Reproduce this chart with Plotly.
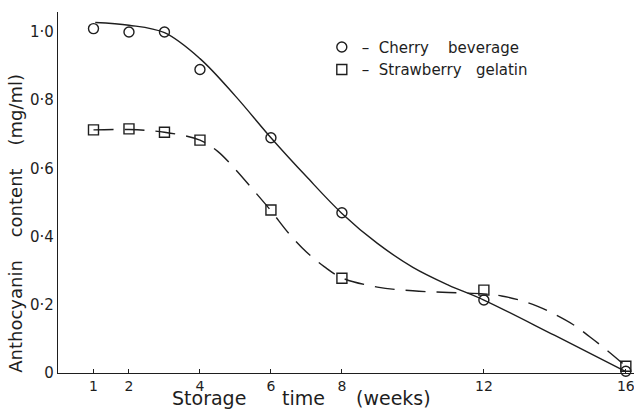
import plotly.graph_objects as go

# Measured anthocyanin content (mg/ml) by storage week
weeks = [1, 2, 3, 4, 6, 8, 12, 16]
cherry_beverage = [1.01, 1.00, 1.00, 0.89, 0.69, 0.47, 0.214, 0.005]
strawberry_gelatin = [0.713, 0.716, 0.706, 0.683, 0.478, 0.278, 0.243, 0.02]

# Hand-fitted trend curves (knots of the drawn smooth lines)
cherry_fit_weeks = [1.05, 2, 3, 4, 5, 6, 7, 8, 9, 10, 11, 12, 14, 16]
cherry_fit_values = [1.028, 1.02, 0.998, 0.922, 0.812, 0.69, 0.576, 0.468,
                     0.38, 0.31, 0.258, 0.214, 0.11, 0.004]
strawberry_fit_weeks = [1, 2, 3, 4, 4.5, 5, 5.5, 6, 6.5, 7, 7.5, 8, 9, 10, 11,
                        12, 12.5, 13, 13.5, 14, 14.5, 15, 15.5, 16]
strawberry_fit_values = [0.713, 0.714, 0.706, 0.683, 0.65, 0.597, 0.537, 0.476,
                         0.41, 0.355, 0.312, 0.279, 0.252, 0.241, 0.236, 0.232,
                         0.226, 0.214, 0.196, 0.172, 0.143, 0.105, 0.064, 0.02]

x_ticks = [1, 2, 4, 6, 8, 12, 16]
x_tick_text = ["1", "2", "4", "6", "8", "12", "16"]
y_ticks = [0, 0.2, 0.4, 0.6, 0.8, 1.0]
y_tick_text = ["0", "0·2", "0·4", "0·6", "0·8", "1·0"]

# Words of the x-axis title, set out individually between the tick labels
x_title_words = ["Storage", "time", "(weeks)"]
x_title_pos = [0.2625, 0.4265, 0.583]

INK = "#1e1e1e"
FONT = "DejaVu Sans"
NB = "\u00a0"

fig = go.Figure()

fig.add_trace(go.Scatter(
    x=cherry_fit_weeks, y=cherry_fit_values, mode="lines",
    line=dict(color=INK, width=1.4, shape="spline", smoothing=1.0),
    showlegend=False, hoverinfo="skip"))
fig.add_trace(go.Scatter(
    x=strawberry_fit_weeks, y=strawberry_fit_values, mode="lines",
    line=dict(color=INK, width=1.4, shape="spline", smoothing=1.0,
              dash="20px,11px"),
    showlegend=False, hoverinfo="skip"))

fig.add_trace(go.Scatter(
    x=weeks, y=cherry_beverage, mode="markers",
    name="–" + NB * 2 + "Cherry" + NB * 4 + "beverage",
    marker=dict(symbol="circle-open", size=10, color=INK,
                line=dict(width=1.4, color=INK)),
    cliponaxis=False))
fig.add_trace(go.Scatter(
    x=weeks, y=strawberry_gelatin, mode="markers",
    name="–" + NB * 2 + "Strawberry" + NB * 3 + "gelatin",
    marker=dict(symbol="square-open", size=10, color=INK,
                line=dict(width=1.4, color=INK)),
    cliponaxis=False))

annotations = [
    dict(text=word, xref="paper", yref="paper", x=xp, y=-0.07,
         xanchor="center", yanchor="middle", showarrow=False,
         font=dict(size=19, color=INK, family=FONT))
    for word, xp in zip(x_title_words, x_title_pos)
]
annotations.append(
    dict(text="Anthocyanin" + NB * 4 + "content" + NB * 4 + "(mg/ml)",
         xref="paper", yref="paper", x=-0.075, y=0.4155,
         xanchor="center", yanchor="middle", showarrow=False,
         textangle=-90,
         font=dict(size=18, color=INK, family=FONT)))

fig.update_layout(
    width=634, height=410,
    margin=dict(l=58, r=0, t=12, b=37),
    paper_bgcolor="white", plot_bgcolor="white",
    font=dict(family=FONT, color=INK, size=15),
    legend=dict(x=0.458, y=0.948, xanchor="left", yanchor="top",
                bgcolor="rgba(0,0,0,0)", font=dict(size=15, color=INK),
                itemwidth=30, tracegroupgap=0),
    xaxis=dict(range=[0, 16.23], showgrid=False, zeroline=False,
               showline=True, linecolor=INK, linewidth=1.4,
               ticks="inside", ticklen=4, tickwidth=1.3, tickcolor=INK,
               tickvals=x_ticks, ticktext=x_tick_text,
               ticklabeloverflow="allow",
               tickfont=dict(size=14, color=INK)),
    yaxis=dict(range=[0, 1.0587], showgrid=False, zeroline=False,
               showline=True, linecolor=INK, linewidth=1.4,
               ticks="", tickvals=y_ticks, ticktext=y_tick_text,
               ticklabelstandoff=0,
               tickfont=dict(size=15, color=INK)),
    annotations=annotations,
)

fig.write_html("out.html")
